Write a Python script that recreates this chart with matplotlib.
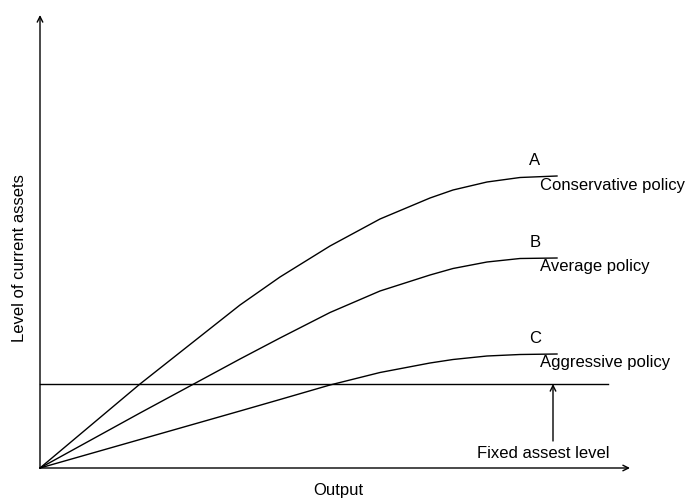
import matplotlib.pyplot as plt

# points (output, level of current assets), arbitrary units
out_a = [0, 100, 200, 240, 290, 340, 390, 413, 447, 480, 517]
lvl_a = [0, 84, 163, 191, 222, 249, 270, 278, 286, 290.5, 292]

out_b = [0, 100, 200, 240, 290, 340, 390, 413, 447, 480, 517]
lvl_b = [0, 55, 109, 130, 155.5, 177, 193, 199.5, 206, 209.5, 210]

out_c = [0, 100, 200, 240, 290, 340, 390, 413, 447, 480, 517]
lvl_c = [0, 28.5, 57, 68.5, 83, 95.5, 105, 108.5, 112, 113.5, 114]

fixed_level = 84
fixed_end = 568

curve_letters = ["A", "B", "C"]
curve_names = ["Conservative policy", "Average policy", "Aggressive policy"]

plt.rcParams['font.family'] = ['Liberation Sans', 'DejaVu Sans']

fig = plt.figure(figsize=(6.9, 4.99), dpi=100)
ax = fig.add_axes([0, 0, 1, 1])
ax.set_xlim(-40, 650)
ax.set_ylim(-31, 468)
ax.axis('off')

lw = 1.0
fs = 12
# axes with arrows
ax.annotate("", xy=(0, 453), xytext=(0, 0),
            arrowprops=dict(arrowstyle='->', lw=lw, color='black', shrinkA=0, shrinkB=0))
ax.annotate("", xy=(590, 0), xytext=(0, 0),
            arrowprops=dict(arrowstyle='->', lw=lw, color='black', shrinkA=0, shrinkB=0))

series = [(out_a, lvl_a), (out_b, lvl_b), (out_c, lvl_c)]
for (xs, ys), letter, name in zip(series, curve_letters, curve_names):
    ax.plot(xs, ys, color='black', lw=lw, solid_joinstyle='round')
    ax.text(xs[-1] - 22, ys[-1] + 8, letter, fontsize=fs, ha='center', va='bottom')
    ax.text(xs[-1] - 17, ys[-1] - 9, name, fontsize=fs, ha='left', va='center')

# fixed asset level
ax.plot([0, fixed_end], [fixed_level, fixed_level], color='black', lw=lw)
ax.annotate("", xy=(513, fixed_level), xytext=(513, 27),
            arrowprops=dict(arrowstyle='->', lw=lw, color='black', shrinkA=0, shrinkB=0))
ax.text(503, 15, "Fixed assest level", fontsize=fs, ha='center', va='center')

ax.text(-20, 210, "Level of current assets", fontsize=fs, rotation=90,
        ha='center', va='center')
ax.text(298, -22, "Output", fontsize=fs, ha='center', va='center')

plt.savefig("out.png", dpi=100)
plt.close()
